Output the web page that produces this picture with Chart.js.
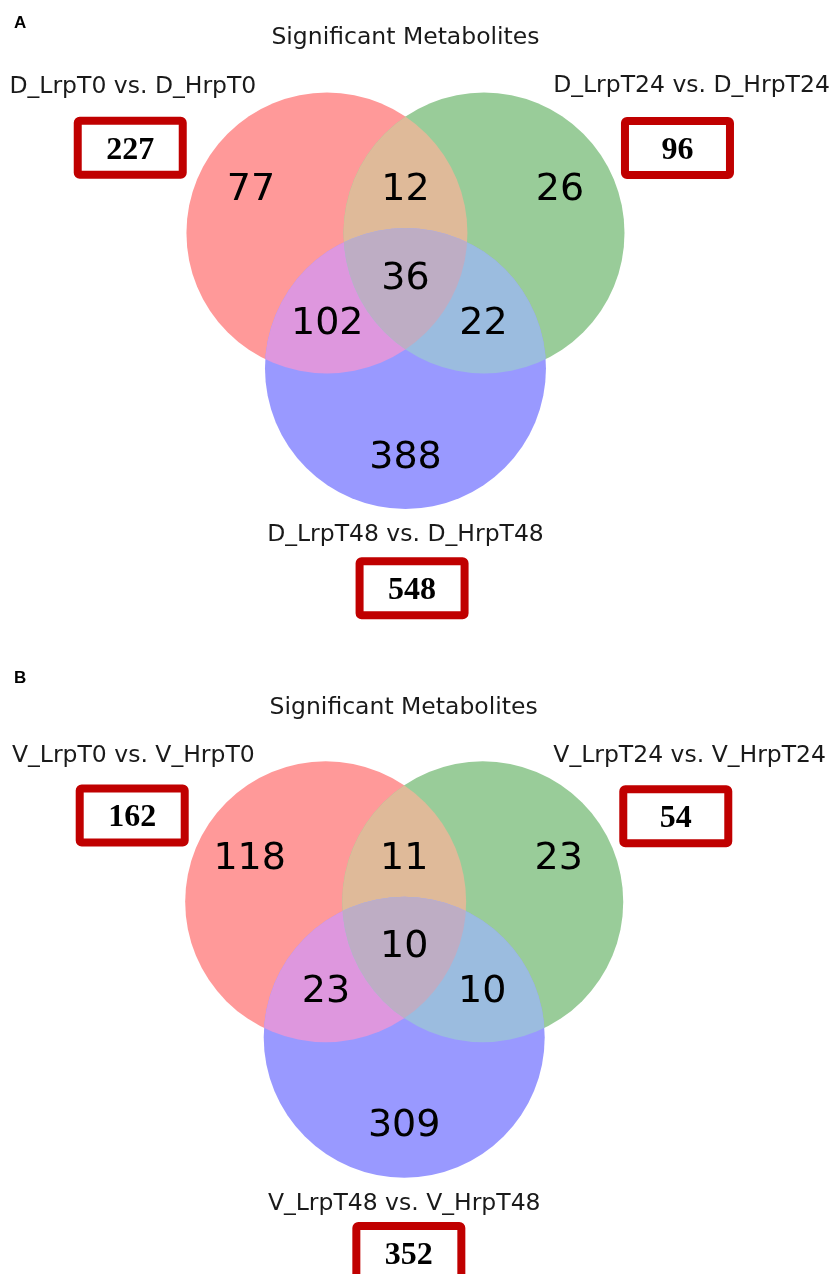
<!DOCTYPE html>
<html>
<head>
<meta charset="utf-8">
<script src="https://cdn.jsdelivr.net/npm/chart.js@4.4.0/dist/chart.umd.min.js"></script>
<style>
  html, body { margin: 0; padding: 0; background: #fff; }
  canvas { display: block; }
</style>
</head>
<body>
<canvas id="vennA" width="833" height="660"></canvas>
<canvas id="vennB" width="833" height="614"></canvas>
<script>
// ---- data ----
const chartTitle = 'Significant Metabolites';
// region order: only A, A&B, only B, A&C, A&B&C, B&C, only C
const regionKeys = ['100', '110', '010', '101', '111', '011', '001'];

const setNamesA = ['D_LrpT0 vs. D_HrpT0', 'D_LrpT24 vs. D_HrpT24', 'D_LrpT48 vs. D_HrpT48'];
const countsA = [77, 12, 26, 102, 36, 22, 388];
const totalsA = [227, 96, 548];

const setNamesB = ['V_LrpT0 vs. V_HrpT0', 'V_LrpT24 vs. V_HrpT24', 'V_LrpT48 vs. V_HrpT48'];
const countsB = [118, 11, 23, 23, 10, 10, 309];
const totalsB = [162, 54, 352];

// ---- layout (unweighted venn3, unit = circle radius) ----
const circleCenters = [{x: -0.559, y: 0}, {x: 0.559, y: 0}, {x: 0, y: -0.964}];
const regionPos = {
  '100': [-1.10, 0.333], '110': [0, 0.333], '010': [1.10, 0.333],
  '101': [-0.557, -0.618], '111': [0, -0.297], '011': [0.555, -0.618],
  '001': [0, -1.571]
};
const circleColors = ['#ff9999', '#99cc99', '#9999ff'];
const pairColors = [[[0, 1], '#dfba99'], [[0, 2], '#de97de'], [[1, 2], '#9bbcdf']];
const tripleColor = '#beadc4';

const panelA = {
  id: 'vennA', letter: 'A', letterY: 28.3,
  names: setNamesA, counts: countsA, totals: totalsA,
  xRange: [-2.886, 3.043], yRange: [-3.039, 1.658],
  titlePos: [0, 1.409],
  namePos: [[-1.94, 1.056], [2.036, 1.063], [0, -2.128]],
  boxPos: [[-1.959, 0.606], [1.936, 0.604], [0.047, -2.529]]
};
const panelB = {
  id: 'vennB', letter: 'B', letterY: 23.3,
  names: setNamesB, counts: countsB, totals: totalsB,
  xRange: [-2.877, 3.052], yRange: [-2.649, 1.721],
  titlePos: [-0.004, 1.401],
  namePos: [[-1.928, 1.057], [2.032, 1.057], [0, -2.134]],
  boxPos: [[-1.936, 0.615], [1.933, 0.609], [0.033, -2.50]]
};

const sansFont = '"DejaVu Sans", sans-serif';

function unitPx(chart) {
  const s = chart.scales.x;
  return Math.abs(s.getPixelForValue(1) - s.getPixelForValue(0));
}

const vennPlugin = {
  id: 'venn',
  afterDatasetsDraw(chart, args, opts) {
    const ctx = chart.ctx;
    const sx = chart.scales.x, sy = chart.scales.y;
    const px = v => sx.getPixelForValue(v);
    const py = v => sy.getPixelForValue(v);
    const pts = chart.getDatasetMeta(0).data.map(p => ({x: p.x, y: p.y, r: p.options.radius}));
    const W = chart.width, H = chart.height;

    function clipCircle(p) {
      ctx.beginPath();
      ctx.arc(p.x, p.y, p.r, 0, Math.PI * 2);
      ctx.clip();
    }
    // overlap regions
    pairColors.forEach(([pair, col]) => {
      ctx.save();
      clipCircle(pts[pair[0]]);
      clipCircle(pts[pair[1]]);
      ctx.fillStyle = col;
      ctx.fillRect(0, 0, W, H);
      ctx.restore();
    });
    ctx.save();
    pts.forEach(clipCircle);
    ctx.fillStyle = tripleColor;
    ctx.fillRect(0, 0, W, H);
    ctx.restore();

    const panel = opts.panel;
    ctx.save();
    ctx.fillStyle = '#000';
    ctx.textAlign = 'center';
    ctx.textBaseline = 'alphabetic';

    // region counts
    ctx.font = '38px ' + sansFont;
    regionKeys.forEach((k, i) => {
      const [x, y] = regionPos[k];
      ctx.fillText(String(panel.counts[i]), px(x), py(y) + 0.3645 * 38);
    });

    // title + set names
    ctx.fillStyle = '#1a1a1a';
    ctx.font = '23.5px ' + sansFont;
    ctx.fillText(chartTitle, px(panel.titlePos[0]), py(panel.titlePos[1]) + 0.3645 * 23.5);
    panel.names.forEach((n, i) => {
      const [x, y] = panel.namePos[i];
      ctx.fillText(n, px(x), py(y) + 0.3645 * 23.5);
    });

    // total boxes
    const bw = 113, bh = 62, lw = 8;
    panel.totals.forEach((t, i) => {
      const cx = px(panel.boxPos[i][0]), cy = py(panel.boxPos[i][1]);
      ctx.strokeStyle = '#c00000';
      ctx.lineWidth = lw;
      ctx.lineJoin = 'round';
      ctx.beginPath();
      ctx.roundRect(cx - bw / 2 + lw / 2, cy - bh / 2 + lw / 2, bw - lw, bh - lw, 2);
      ctx.stroke();
      ctx.fillStyle = '#000';
      ctx.font = 'bold 32px "Liberation Serif", "Times New Roman", serif';
      ctx.fillText(String(t), cx, cy + 0.338 * 32);
    });

    // panel letter
    ctx.textAlign = 'left';
    ctx.font = 'bold 17px "Liberation Sans", Arial, sans-serif';
    ctx.fillText(panel.letter, 14, panel.letterY);
    ctx.restore();
  }
};

function makeVenn(panel) {
  const ctx = document.getElementById(panel.id).getContext('2d');
  const chart = new Chart(ctx, {
    type: 'bubble',
    data: {
      datasets: [{
        data: circleCenters.map(c => ({x: c.x, y: c.y, r: 1})),
        backgroundColor: circleColors,
        borderWidth: 0,
        hoverRadius: 0,
        clip: false
      }]
    },
    options: {
      responsive: false,
      animation: false,
      events: [],
      devicePixelRatio: 1,
      layout: { padding: 0, autoPadding: false },
      plugins: {
        legend: { display: false },
        tooltip: { enabled: false },
        venn: { panel: panel }
      },
      scales: {
        x: { type: 'linear', display: false, min: panel.xRange[0], max: panel.xRange[1] },
        y: { type: 'linear', display: false, min: panel.yRange[0], max: panel.yRange[1] }
      }
    },
    plugins: [vennPlugin]
  });
  // bubble radius = one data unit in pixels
  const r = unitPx(chart);
  chart.data.datasets[0].data.forEach(d => { d.r = r; });
  chart.update();
  return chart;
}

document.addEventListener('DOMContentLoaded', function () {
  makeVenn(panelA);
  makeVenn(panelB);
});
</script>
</body>
</html>
